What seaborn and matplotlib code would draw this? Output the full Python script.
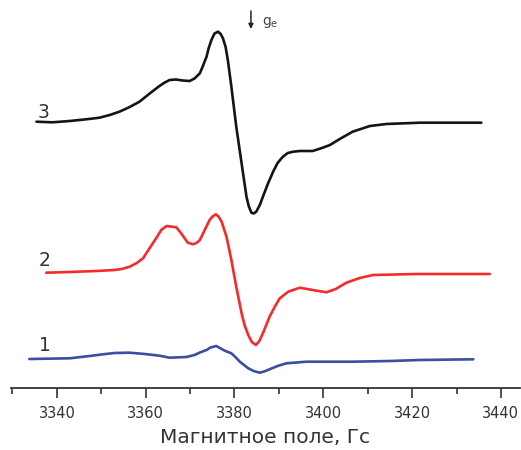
import numpy as np
import pandas as pd
import matplotlib
matplotlib.use("Agg")
import matplotlib.pyplot as plt
import seaborn as sns
from matplotlib.ticker import MultipleLocator

# Field (Gs) and signal (a.u., curves offset as in the figure)
field_3 = [3335.4, 3339.0, 3342.9, 3346.6, 3349.6, 3351.9, 3354.1, 3356.4, 3358.6, 3360.9,
           3363.1, 3364.3, 3365.4, 3366.8, 3368.3, 3369.9, 3371.0, 3372.2, 3372.8, 3373.7,
           3374.2, 3374.8, 3375.5, 3376.3, 3376.9, 3377.4, 3378.0, 3378.5, 3379.3, 3380.4,
           3381.6, 3382.7, 3383.2, 3383.8, 3384.3, 3384.9, 3385.7, 3386.4, 3387.5, 3388.7,
           3389.7, 3390.9, 3392.0, 3393.2, 3394.7, 3397.6, 3399.7, 3401.5, 3403.7, 3406.6,
           3410.5, 3414.2, 3421.7, 3435.6]
signal_3 = [266.3, 265.7, 267.0, 268.7, 270.3, 273.0, 276.3, 281.0, 286.3, 294.5,
            302.0, 305.5, 308.0, 308.5, 307.5, 307.0, 309.5, 314.7, 321.0, 331.3,
            340.0, 348.0, 354.5, 356.3, 354.0, 349.7, 341.0, 328.0, 301.3, 261.3,
            224.7, 191.3, 182.0, 175.3, 174.5, 176.3, 183.0, 191.3, 204.0, 216.3,
            225.0, 231.3, 235.0, 236.3, 237.0, 237.0, 240.0, 243.0, 249.0, 256.3,
            262.0, 264.0, 265.3, 265.3]

field_2 = [3337.6, 3342.9, 3348.9, 3353.0, 3354.6, 3356.4, 3358.0, 3359.4, 3360.4, 3361.6,
           3362.6, 3363.5, 3364.7, 3365.6, 3366.9, 3368.0, 3368.8, 3369.5, 3370.7, 3371.5,
           3372.2, 3373.3, 3374.4, 3375.1, 3375.8, 3376.4, 3377.1, 3378.2, 3379.3, 3380.4,
           3381.6, 3382.3, 3383.1, 3383.9, 3384.8, 3385.6, 3386.4, 3387.9, 3389.1, 3390.2,
           3392.1, 3394.7, 3397.6, 3400.7, 3402.8, 3405.2, 3408.2, 3411.2, 3421.0, 3437.5]
signal_2 = [115.3, 116.0, 117.0, 118.0, 119.0, 121.3, 125.0, 129.7, 136.5, 144.7,
            151.5, 158.0, 162.0, 161.5, 160.7, 154.7, 149.5, 145.3, 143.7, 145.2,
            148.0, 158.0, 168.0, 171.7, 173.7, 171.5, 166.3, 151.3, 128.0, 101.3,
            74.7, 62.5, 53.0, 46.0, 43.0, 47.0, 54.7, 71.3, 81.5, 89.7,
            96.3, 100.3, 98.0, 95.7, 99.0, 105.3, 110.0, 113.0, 114.0, 114.0]

field_1 = [3333.8, 3342.9, 3347.4, 3350.4, 3353.0, 3356.4, 3359.8, 3363.1, 3365.4, 3369.2,
           3371.0, 3372.2, 3373.7, 3374.6, 3375.9, 3376.9, 3377.8, 3379.3, 3380.3, 3381.2,
           3383.1, 3384.3, 3385.7, 3386.8, 3387.9, 3389.7, 3391.7, 3396.2, 3406.7, 3415.0,
           3421.7, 3433.8]
signal_1 = [29.0, 29.7, 32.0, 33.7, 35.0, 35.3, 34.0, 32.3, 30.3, 31.0,
            33.0, 35.5, 38.0, 40.5, 42.0, 39.5, 37.3, 34.7, 30.5, 26.3,
            19.7, 17.0, 15.3, 16.7, 18.7, 22.0, 24.7, 26.3, 26.3, 27.0,
            28.0, 28.7]

curve_labels = ["1", "2", "3"]
x_ticks = [3340, 3360, 3380, 3400, 3420, 3440]
x_label = "Магнитное поле, Гс"

df = pd.concat([
    pd.DataFrame({"field": field_1, "signal": signal_1, "curve": "1"}),
    pd.DataFrame({"field": field_2, "signal": signal_2, "curve": "2"}),
    pd.DataFrame({"field": field_3, "signal": signal_3, "curve": "3"}),
], ignore_index=True)

sns.set_style("white")
plt.rcParams["font.family"] = ["DejaVu Sans"]

fig = plt.figure(figsize=(5.21, 4.5), dpi=100)
ax = fig.add_axes([10.7 / 521, 62 / 450, (520 - 10.7) / 521, 388 / 450])

palette = {"1": "#3a4ea3", "2": "#f52a2a", "3": "#141414"}
sns.lineplot(data=df, x="field", y="signal", hue="curve", palette=palette,
             sort=False, estimator=None, linewidth=1.9, legend=False, ax=ax)
for ln in ax.lines:
    ln.set_solid_joinstyle("round")
    ln.set_solid_capstyle("round")

ax.set_xlim(3329.6, 3444.3)
ax.set_ylim(0, 388)
for s in ["left", "right", "top"]:
    ax.spines[s].set_visible(False)
ax.spines["bottom"].set_color("#333333")
ax.spines["bottom"].set_linewidth(1.3)
ax.set_yticks([])
ax.set_xticks(x_ticks)
ax.xaxis.set_minor_locator(MultipleLocator(10))
ax.tick_params(axis="x", which="major", direction="out", length=7, width=1.2,
               colors="#333333", labelsize=10.5, pad=6, bottom=True)
ax.tick_params(axis="x", which="minor", direction="out", length=4, width=1.2,
               colors="#333333", bottom=True)
ax.set_xlabel(x_label, fontsize=14.5, color="#333333", labelpad=5)
ax.set_ylabel("")

label_pos = {"1": (3337.2, 42.5), "2": (3337.2, 127), "3": (3337.0, 275.5)}
for lab in curve_labels:
    x, y = label_pos[lab]
    ax.text(x, y, lab, fontsize=13.5, color="#333333", ha="center", va="center")

ax.annotate("", xy=(3383.7, 359), xytext=(3383.7, 377),
            arrowprops=dict(arrowstyle="-|>", color="#222222", lw=1.1,
                            mutation_scale=7, shrinkA=0, shrinkB=0),
            annotation_clip=False)
ax.text(3386.1, 366, r"g$_\mathregular{e}$", fontsize=10, color="#444444",
        ha="left", va="center")

fig.savefig("out.png", dpi=100)
